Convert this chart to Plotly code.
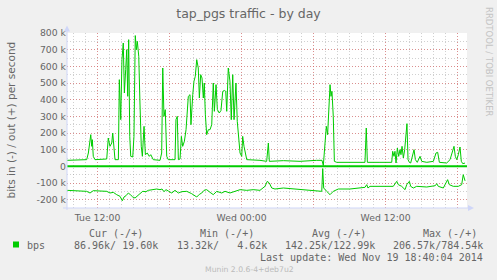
import pandas as pd
import plotly.graph_objects as go

# ---------------- data ----------------
BASE = pd.Timestamp("2014-11-18 00:00:00")   # Tue 00:00
X_START = "2014-11-18 09:27:00"
X_END = "2014-11-19 18:47:00"

# hours since Tue 00:00, and out traffic in kbit/s
out_hours = [9.45, 11.09, 11.23, 11.31, 11.43, 11.51, 11.56, 11.64, 11.78, 12.76,
             12.89, 13.03, 13.18, 13.26, 13.37, 13.45, 13.73, 13.81, 13.93, 14.03,
             14.14, 14.23, 14.34, 14.43, 14.51, 14.59, 14.68, 14.76, 14.93, 15.03,
             15.14, 15.23, 15.31, 15.43, 15.53, 15.64, 15.73, 15.87, 15.98, 16.14,
             16.31, 16.43, 16.64, 17.2, 17.34, 17.43, 17.53, 17.64, 17.76, 17.89,
             18.45, 18.53, 18.64, 18.73, 18.87, 18.98, 19.09, 19.23, 19.37, 19.56,
             19.7, 19.78, 19.93, 20.03, 20.14, 20.26, 20.39, 20.48, 20.59, 20.7,
             20.81, 20.89, 20.98, 21.09, 21.23, 21.37, 21.51, 21.64, 21.73, 21.87,
             21.98, 22.14, 22.28, 22.43, 22.56, 22.68, 22.76, 22.89, 23.03, 23.14,
             23.26, 23.37, 23.53, 23.64, 23.76, 23.87, 24.01, 24.09, 24.2, 24.31,
             24.43, 25.53, 26.09, 26.23, 26.31, 27.48, 28.87, 30.26, 30.7, 30.81,
             30.95, 31.06, 31.17, 31.26, 31.37, 31.45, 31.53, 31.64, 31.73, 31.93,
             33.03, 34.28, 34.39, 34.48, 35.53, 36.51, 36.59, 36.7, 36.78, 36.87,
             36.98, 37.09, 37.2, 37.28, 37.37, 37.48, 37.59, 37.7, 37.78, 37.87,
             37.98, 38.09, 38.23, 38.37, 38.48, 38.64, 38.87, 39.01, 39.43, 39.98,
             40.2, 40.34, 40.48, 41.09, 41.37, 41.53, 41.7, 41.81, 41.93, 42.06,
             42.2, 42.31, 42.43, 42.62]
out_kbps = [36, 40, 80, 120, 190, 120, 160, 60, 40, 44,
            170, 120, 140, 200, 80, 40, 40, 520, 280, 640,
            740, 440, 580, 700, 420, 760, 180, 60, 56, 180,
            784.5, 700, 750, 660, 380, 120, 60, 240, 70, 80,
            60, 70, 40, 36, 80, 590, 300, 340, 60, 40,
            40, 280, 300, 40, 44, 180, 120, 150, 220, 420,
            430, 250, 430, 510, 540, 640, 590, 410, 550, 530,
            410, 500, 310, 190, 220, 220, 250, 500, 330, 490,
            340, 320, 335, 450, 455, 450, 330, 590, 510, 280,
            550, 280, 500, 270, 170, 80, 60, 180, 120, 70,
            40, 36, 30, 140, 30, 34, 30, 36, 36, 5,
            120, 240, 190, 360, 490, 420, 450, 300, 30, 24,
            24, 24, 230, 24, 24, 24, 90, 60, 90, 20,
            110, 60, 100, 70, 120, 50, 100, 180, 256, 40,
            24, 20, 60, 100, 40, 24, 60, 30, 24, 30,
            80, 84, 24, 20, 40, 80, 120, 60, 40, 70,
            116, 30, 16, 19.6]

# hours since Tue 00:00, and in traffic in kbit/s (drawn negative)
in_hours = [9.45, 10.26, 11.09, 11.37, 11.64, 12.2, 12.76, 13.03, 13.31, 13.59,
            13.87, 14.06, 14.2, 14.37, 14.56, 14.76, 14.93, 15.12, 15.31, 15.53,
            15.76, 16.03, 16.23, 16.51, 16.93, 17.2, 17.37, 17.53, 17.7, 17.89,
            18.18, 18.45, 18.73, 19.01, 19.43, 19.84, 20.26, 20.48, 20.68, 20.87,
            21.09, 21.37, 21.64, 21.93, 22.34, 22.62, 23.03, 23.45, 23.87, 24.43,
            24.98, 25.53, 25.95, 26.14, 26.31, 26.51, 26.78, 27.48, 28.31, 29.14,
            29.98, 30.68, 30.76, 30.84, 31.09, 31.37, 31.64, 32.06, 33.03, 33.87,
            34.28, 34.43, 34.53, 34.7, 35.81, 36.64, 36.93, 37.06, 37.34, 37.62,
            37.76, 37.98, 38.09, 38.31, 38.59, 39.43, 40.14, 40.26, 40.39, 40.81,
            41.17, 41.31, 41.64, 42.06, 42.34, 42.47, 42.62]
in_kbps = [144, 146, 150, 160, 146, 148, 150, 160, 156, 170,
           180, 206.6, 184, 176, 160, 172, 184, 190, 176, 164,
           150, 152, 144, 140, 136, 140, 136, 152, 140, 148,
           160, 144, 160, 152, 150, 164, 184, 168, 160, 144,
           140, 156, 170, 150, 160, 150, 160, 150, 140, 144,
           140, 144, 120, 90, 100, 130, 136, 130, 136, 140,
           144, 150, 13.3, 130, 150, 170, 150, 136, 136, 130,
           126, 110, 130, 120, 120, 120, 90, 110, 120, 140,
           110, 90, 120, 130, 120, 124, 116, 104, 120, 130,
           80, 110, 120, 120, 110, 50, 86.96]

x_tick_hours = [12, 18, 24, 30, 36, 42]
x_tick_text = ["Tue 12:00", "", "Wed 00:00", "", "Wed 12:00", ""]
y_tick_vals = [-200000, -100000, 0, 100000, 200000, 300000, 400000, 500000, 600000, 700000, 800000]
y_tick_text = ["-200 k", "-100 k", "0", "100 k", "200 k", "300 k", "400 k", "500 k", "600 k", "700 k", "800 k"]

legend_name = "bps"
legend_heads = ["Cur (-/+)", "Min (-/+)", "Avg (-/+)", "Max (-/+)"]
legend_vals = ["86.96k/ 19.60k", "13.32k/   4.62k", "142.25k/122.99k", "206.57k/784.54k"]
last_update = "Last update: Wed Nov 19 18:40:04 2014"

# ---------------- layout helpers ----------------
W, H = 497, 280
L, R, T, B = 67, 30, 33, 72
PW, PH = W - L - R, H - T - B
GREEN = "#00CC00"
FONT = "DejaVu Sans"
MONO = "DejaVu Sans Mono"
TXT = "#666666"
AXIS = "#CFD6F8"


def px(x):
    return (x - L) / PW


def py(y):
    return (H - B - y) / PH


def to_time(hours):
    return [BASE + pd.Timedelta(hours=h) for h in hours]


fig = go.Figure()
fig.add_trace(go.Scatter(x=to_time(out_hours), y=[v * 1000 for v in out_kbps],
                         mode="lines", line=dict(color=GREEN, width=1), showlegend=False))
fig.add_trace(go.Scatter(x=to_time(in_hours), y=[-v * 1000 for v in in_kbps],
                         mode="lines", line=dict(color=GREEN, width=1), showlegend=False))

shapes = [
    # zero rule
    dict(type="line", xref="paper", yref="y", x0=0, x1=1, y0=0, y1=0,
         line=dict(color=GREEN, width=2)),
    # axes
    dict(type="line", xref="paper", yref="paper", x0=px(67), x1=px(67), y0=py(210), y1=py(29),
         line=dict(color=AXIS, width=1)),
    dict(type="line", xref="paper", yref="paper", x0=px(63), x1=px(470), y0=py(208), y1=py(208),
         line=dict(color=AXIS, width=1)),
    dict(type="path", xref="paper", yref="paper", fillcolor=AXIS, line=dict(width=0),
         path=f"M {px(67)},{py(25.5)} L {px(64)},{py(31.5)} L {px(70)},{py(31.5)} Z"),
    dict(type="path", xref="paper", yref="paper", fillcolor=AXIS, line=dict(width=0),
         path=f"M {px(474)},{py(208)} L {px(468)},{py(205)} L {px(468)},{py(211)} Z"),
    # legend swatch
    dict(type="rect", xref="paper", yref="paper", x0=px(13), x1=px(19), y0=py(247.5), y1=py(241.5),
         fillcolor=GREEN, line=dict(width=0)),
]

ann = []


def add_text(text, x, y, xanchor, font, size, color=TXT, angle=0):
    ann.append(dict(text=text, x=px(x), y=py(y), xref="paper", yref="paper",
                    xanchor=xanchor, yanchor="middle", showarrow=False,
                    borderpad=0, borderwidth=0, textangle=angle,
                    font=dict(family=font, size=size, color=color)))


add_text("bits in (-) / out (+) per second", 10, 120.5, "center", FONT, 10.5, angle=-90)
head_right = [143, 254, 366, 477]
val_right = [158, 267, 375, 483]
for h, xr in zip(legend_heads, head_right):
    add_text(h.replace(" ", "\u00a0"), xr, 233.5, "right", MONO, 10)
for v, xr in zip(legend_vals, val_right):
    add_text(v.replace(" ", "\u00a0"), xr, 245, "right", MONO, 10)
add_text(legend_name, 27, 245, "left", MONO, 10)
add_text(last_update.replace(" ", "\u00a0"), 483, 257.3, "right", MONO, 10)
add_text("Munin 2.0.6-4+deb7u2", 249, 269, "center", FONT, 7.7, color="#BBBBBB")
add_text("RRDTOOL / TOBI OETIKER", 488.5, 61.5, "center", FONT, 8.5, color="#C4C4C4", angle=90)

fig.update_layout(
    width=W, height=H,
    margin=dict(l=L, r=R, t=T, b=B, pad=0),
    paper_bgcolor="#F0F0F0", plot_bgcolor="#FFFFFF",
    title=dict(text="tap_pgs traffic - by day", x=0.5, xref="container", xanchor="center",
               y=1 - 14 / H, yref="container", yanchor="middle",
               font=dict(family=FONT, size=12.5, color=TXT)),
    font=dict(family=FONT, size=9.3, color=TXT),
    shapes=shapes, annotations=ann, showlegend=False, hovermode=False,
    xaxis=dict(type="date", range=[X_START, X_END],
               tickmode="array", tickvals=to_time(x_tick_hours), ticktext=x_tick_text,
               showgrid=True, gridcolor="rgba(225,90,90,0.55)", griddash="1px,2px", gridwidth=1,
               minor=dict(dtick=3600000, tick0="2014-11-18 00:00:00", showgrid=True,
                          gridcolor="rgba(150,150,150,0.45)", griddash="1px,2px", gridwidth=1),
               showline=False, zeroline=False, ticks="", ticklabelstandoff=3,
               tickfont=dict(size=9.3, color=TXT)),
    yaxis=dict(range=[-250000, 800000], tickmode="array", tickvals=y_tick_vals, ticktext=y_tick_text,
               showgrid=True, gridcolor="rgba(225,90,90,0.55)", griddash="1px,2px", gridwidth=1,
               minor=dict(dtick=50000, tick0=0, showgrid=True,
                          gridcolor="rgba(150,150,150,0.45)", griddash="1px,2px", gridwidth=1),
               showline=False, zeroline=False, ticks="", tickfont=dict(size=9.3, color=TXT)),
)

fig.write_html("out.html")
